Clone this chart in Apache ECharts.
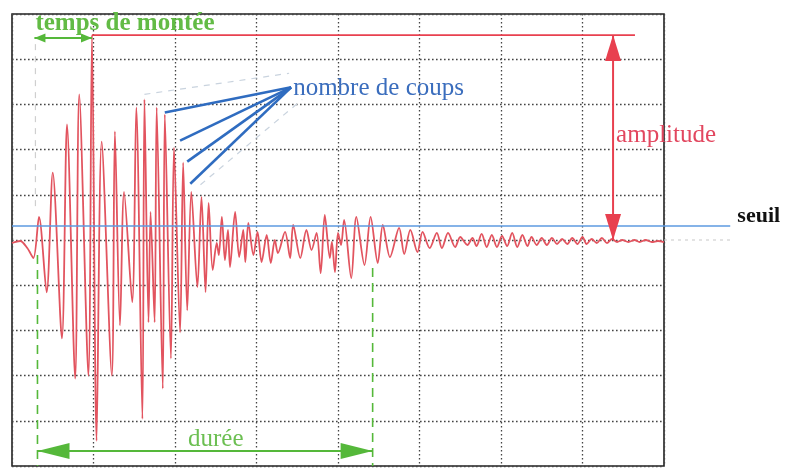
<!DOCTYPE html>
<html>
<head>
<meta charset="utf-8">
<script src="https://cdn.jsdelivr.net/npm/echarts@6/dist/echarts.min.js"></script>
<style>
  html, body { margin: 0; padding: 0; background: #fff; }
  #c { width: 787px; height: 469px; }
</style>
</head>
<body>
<div id="c"></div>
<script>
// Acoustic emission burst: time in µs (80 µs per division), amplitude in mV (45 mV per division)
const timeUs = [
  0, 8, 15, 21, 26.5, 34, 40, 49, 54, 62, 66, 75, 78.5, 83, 88, 98, 101, 106, 110, 118,
  122, 128, 130, 134, 136, 140, 142, 148, 150, 156, 159, 165, 168, 172, 176, 182, 186, 190, 193, 197,
  201, 203, 206, 209, 212, 214, 219, 223, 227, 229, 232, 237, 241, 245, 250, 254, 258, 261, 268, 273,
  276, 283, 289, 294, 299, 303, 307, 312, 314, 317, 320, 323, 326, 333, 338, 346, 352, 359, 364, 371,
  380, 385, 391, 398, 403, 410, 417, 422, 428, 435, 440, 447, 452, 456, 461, 466, 471, 476, 481, 486,
  491, 496, 501, 506, 510, 515, 520, 525, 530, 535, 540, 545, 550, 555, 560, 564, 569, 574, 579, 584,
  589, 594, 599, 605, 611, 616, 622, 628, 634, 640
];
const amplitudeMv = [
  -3, -1, -8, -18, 23, -52, 67, -98, 115, -138, 145, -135, 204, -200, 98, -135, 108, -85, 48, -62,
  132, -178, 140, -82, 28, -82, 132, -148, 125, -118, 92, -92, 77, -70, 48, -47, 43, -52, 37, -30,
  -3, -15, 23, -20, 10, -27, 28, -17, 10, -22, 17, -15, 8, -22, 5, -23, 0, -13, 8, -18,
  15, -18, 10, -10, 7, -33, 25, -18, -2, -32, 7, -5, 20, -38, 23, -25, 23, -23, 15, -17,
  12, -14, 10, -12, 8, -8, 7, -8, 7, -7, 3, -5, 2, -6, 6, -7, 5, -7, 4, -6,
  7, -7, 5, -6, 3, -5, 2, -5, 2, -4, 1, -4, 2, -4, 3, -4, 1, -3, 2, -3,
  1, -2, 0, -2, 0, -2, 0, -2, -1, -2
];

// Annotation values
const threshold = 14;          // seuil
const peakTime = 78.5;         // time of the maximum
const peakAmp = 204;           // amplitude of the maximum
const firstCrossing = 25;      // first threshold crossing
const lastCrossing = 354;      // last threshold crossing
const amplitudeArrowTime = 590;
const amplitudeLineEnd = 611.5;
const outsideEnd = 705;        // annotation lines run past the frame to here
const countTargets = [[150, 127], [165, 99], [172, 78], [175, 56]];
const countLabelAt = [276, 152];

const waveform = timeUs.map((t, i) => [t, amplitudeMv[i]]);

const chart = echarts.init(document.getElementById('c'), null, { renderer: 'canvas' });

const gridLine = { show: true, lineStyle: { color: '#444', width: 1.3, type: [1.6, 2.4] } };

chart.setOption({
  backgroundColor: '#fff',
  animation: false,
  grid: { left: 12, top: 14, width: 652, height: 452, show: true, borderColor: '#222', borderWidth: 1.6, backgroundColor: 'transparent' },
  xAxis: {
    type: 'value', min: 0, max: 640, interval: 80,
    axisLine: { show: false }, axisTick: { show: false }, axisLabel: { show: false },
    splitLine: gridLine
  },
  yAxis: {
    type: 'value', min: -225, max: 225, interval: 45,
    axisLine: { show: false }, axisTick: { show: false }, axisLabel: { show: false },
    splitLine: gridLine
  },
  series: [{
    type: 'line',
    data: waveform,
    showSymbol: false,
    smooth: 0.3,
    clip: false,
    lineStyle: { color: '#e2545f', width: 1.8 },
    z: 3
  }]
});

const P = (t, a) => chart.convertToPixel({ gridIndex: 0 }, [t, a]);

function seg(a, b, color, width, dash, z) {
  return {
    type: 'line', z: z || 10,
    shape: { x1: a[0], y1: a[1], x2: b[0], y2: b[1] },
    style: { stroke: color, lineWidth: width, lineDash: dash || null }
  };
}

// Arrow head whose tip sits at `tip`, pointing away from `from`
function head(tip, from, len, half, color) {
  const dx = tip[0] - from[0], dy = tip[1] - from[1];
  const d = Math.hypot(dx, dy) || 1;
  const ux = dx / d, uy = dy / d;
  const bx = tip[0] - ux * len, by = tip[1] - uy * len;
  return {
    type: 'polygon', z: 11,
    shape: { points: [[tip[0], tip[1]], [bx - uy * half, by + ux * half], [bx + uy * half, by - ux * half]] },
    style: { fill: color }
  };
}

function doubleArrow(a, b, color, width, len, half) {
  return [seg(a, b, color, width), head(a, b, len, half, color), head(b, a, len, half, color)];
}

function label(text, pos, font, color, align) {
  return {
    type: 'text', z: 12,
    style: {
      text: text, x: pos[0], y: pos[1], font: font, fill: color,
      textAlign: align || 'left', textVerticalAlign: 'middle'
    }
  };
}

const red = '#e8404f', green = '#55b83a', blue = '#2f6cc0';
const serif = '"Liberation Serif", "DejaVu Serif", serif';

const g = [];
// threshold and quiet baseline past the frame
g.push(seg(P(0, threshold), P(outsideEnd, threshold), '#5c9ae0', 1.5, null, 9));
g.push(seg(P(640, 0), P(outsideEnd, 0), '#c8c8c8', 1.2, [3, 4], 9));
g.push(label('seuil', P(712, 24), 'bold 22px ' + serif, '#111'));

// amplitude
g.push(seg(P(peakTime, peakAmp), P(amplitudeLineEnd, peakAmp), red, 1.6));
g.push(...doubleArrow(P(amplitudeArrowTime, peakAmp), P(amplitudeArrowTime, 0), red, 2, 26, 8));
g.push(label('amplitude', P(593, 104), '25px ' + serif, '#e2475f'));

// rise time
g.push(seg(P(23, 195), P(23, 30), '#cfcfcf', 1.2, [6, 6], 2));
g.push(...doubleArrow(P(22, 201), P(peakTime, 201), green, 2, 11, 4.5));
g.push(label('temps de montée', P(23, 215), 'bold 25px ' + serif, '#62bb45'));

// duration
g.push(seg(P(firstCrossing, -15), P(firstCrossing, -225), green, 1.6, [9, 6]));
g.push(seg(P(lastCrossing, -28), P(lastCrossing, -225), green, 1.6, [9, 6]));
g.push(...doubleArrow(P(firstCrossing, -210), P(lastCrossing, -210), green, 2, 32, 8));
g.push(label('durée', P(200, -199), '25px ' + serif, '#6cbf52', 'center'));

// counts
g.push(seg(P(130, 145), P(272, 166), '#c9d3de', 1.2, [6, 6], 8));
g.push(seg(P(185, 55), P(285, 140), '#c9d3de', 1.2, [6, 6], 8));
countTargets.forEach(function (c) {
  g.push(seg(P(countLabelAt[0] - 2, countLabelAt[1]), P(c[0], c[1]), blue, 2.6));
});
g.push(label('nombre de coups', P(countLabelAt[0], countLabelAt[1] - 1), '25px ' + serif, '#3a6dbd'));

chart.setOption({ graphic: { elements: g } });
</script>
</body>
</html>
